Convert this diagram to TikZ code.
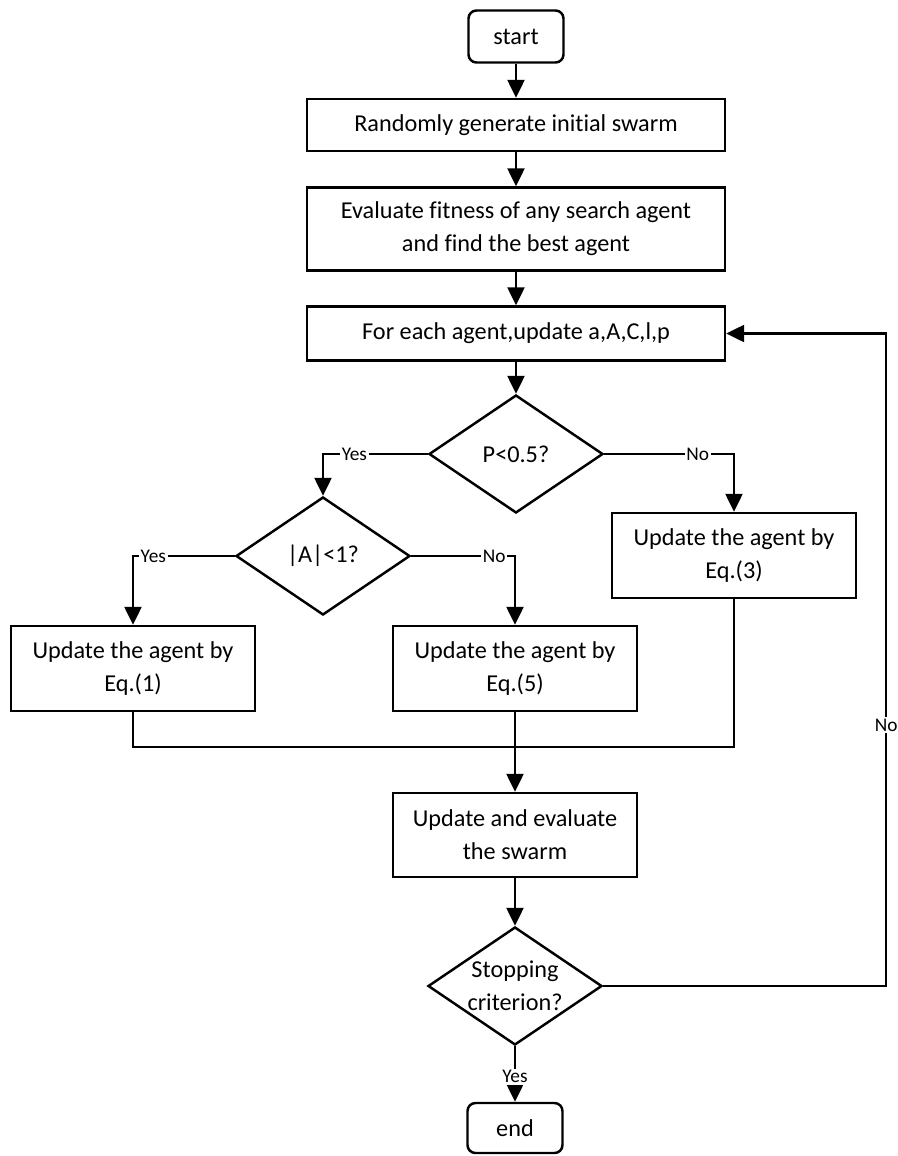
\documentclass[tikz,border=0pt]{standalone}
\usepackage{xcolor}
\usepackage{fontspec}
\setmainfont{Carlito}[Ligatures=NoCommon]
\usepackage{tikz}
\usetikzlibrary{shapes,arrows.meta,positioning}

\begin{document}
\begin{tikzpicture}[node distance=2cm,
  every node/.style={font=\fontsize{13.8}{18.7}\selectfont},
  box/.style={draw, rectangle, line width=1.4pt, align=center, inner sep=0pt},
  terminal/.style={box, rounded corners=0.16cm, minimum width=1.9cm, minimum height=1.04cm},
  decision/.style={draw, diamond, line width=1.4pt, align=center, inner sep=0pt, aspect=1.47, minimum width=3.48cm, minimum height=2.36cm},
  flow/.style={line width=1.4pt, -{Triangle[length=0.36cm, width=0.34cm]}},
  link/.style={line width=1.4pt},
  lbl/.style={fill=white, inner sep=1pt, anchor=center, font=\fontsize{11}{13}\selectfont}]
  \useasboundingbox (-10.32,0.73) rectangle (7.64,-22.39);
  % Nodes
  \node (start) [terminal] {start};
  \node (rand) [box, minimum width=8.36cm, minimum height=1.04cm, below of=start, yshift=0.23cm] {Randomly generate initial swarm};
  \node (eval) [box, minimum width=8.36cm, minimum height=1.66cm, below of=rand, yshift=-0.08cm] {Evaluate fitness of any search agent\\and find the best agent};
  \node (foreach) [box, minimum width=8.36cm, minimum height=1.08cm, below of=eval, yshift=-0.09cm] {For each agent,update a,A,C,l,p};
  \node (pcheck) [decision, below of=foreach, yshift=-0.41cm] {P<0.5?};
  \node (acheck) [decision, below of=pcheck, xshift=-3.86cm, yshift=-0.04cm] {|A|<1?};
  \node (eqthree) [box, minimum width=4.88cm, minimum height=1.7cm, below of=pcheck, xshift=4.36cm, yshift=-0.03cm] {Update the agent by\\Eq.(3)};
  \node (eqone) [box, minimum width=4.88cm, minimum height=1.7cm, below of=acheck, xshift=-3.8cm, yshift=-0.25cm] {Update the agent by\\Eq.(1)};
  \node (eqfive) [box, minimum width=4.88cm, minimum height=1.7cm, below of=acheck, xshift=3.84cm, yshift=-0.25cm] {Update the agent by\\Eq.(5)};
  \node (upd) [box, minimum width=4.88cm, minimum height=1.68cm, below of=eqfive, yshift=-1.33cm] {Update and evaluate\\the swarm};
  \node (stop) [decision, below of=upd, yshift=-1.02cm] {Stopping\\criterion?};
  \node (finish) [terminal, minimum height=1cm, below of=stop, yshift=-0.84cm] {end};
  \coordinate (merge) at ([yshift=-0.7cm]eqfive.south);
  \coordinate (loop) at ([xshift=3.2cm]foreach.east);

  % Edges
  \draw[flow] (start) -- (rand);
  \draw[flow] (rand) -- (eval);
  \draw[flow] (eval) -- (foreach);
  \draw[flow] (foreach) -- (pcheck);
  \draw[flow] (pcheck.west) -| (acheck.north) node[lbl, pos=0.35] {Yes};
  \draw[flow] (pcheck.east) -| (eqthree.north) node[lbl, pos=0.36] {No};
  \draw[flow] (acheck.west) -| (eqone.north) node[lbl, pos=0.4] {Yes};
  \draw[flow] (acheck.east) -| (eqfive.north) node[lbl, pos=0.4] {No};
  \draw[link] (eqone.south) |- (merge) -| (eqthree.south);
  \draw[flow] (eqfive.south) -- (upd);
  \draw[flow] (upd) -- (stop);
  \draw[flow] (stop) -- (finish) node[lbl, pos=0.55] {Yes};
  \draw[flow] (stop.east) -| (loop) node[lbl, pos=0.7] {No} -- (foreach.east);
\end{tikzpicture}
\end{document}
